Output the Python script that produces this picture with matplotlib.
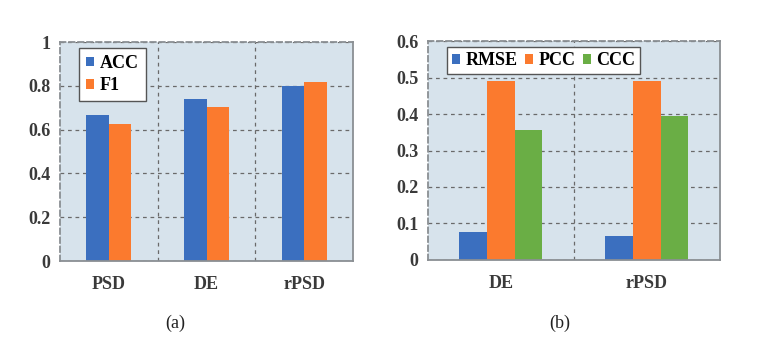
import numpy as np
import matplotlib.pyplot as plt

# (a) classification
feats_a = ["PSD", "DE", "rPSD"]
acc = [0.668, 0.740, 0.799]
f1 = [0.627, 0.703, 0.819]

# (b) regression
feats_b = ["DE", "rPSD"]
rmse = [0.076, 0.065]
pcc = [0.490, 0.490]
ccc = [0.355, 0.395]

BLUE = "#3b6fbf"
ORANGE = "#fb7a2e"
GREEN = "#6aae45"
BG = "#d7e3ec"

plt.rcParams["font.family"] = ["Liberation Serif", "DejaVu Serif"]

fig = plt.figure(figsize=(7.6, 3.48), dpi=100)
ax1 = fig.add_axes([0.079, 0.25, 0.3855, 0.629])
ax2 = fig.add_axes([0.563, 0.253, 0.384, 0.629])


def style(ax, ncat):
    ax.set_facecolor(BG)
    ax.set_xlim(-0.5, ncat - 0.5)
    ax.set_xticks(np.arange(ncat))
    ax.set_xticks(np.arange(ncat - 1) + 0.5, minor=True)
    ax.tick_params(axis="both", which="both", length=0, labelsize=13, pad=7)
    ax.tick_params(axis="x", pad=11)
    ax.grid(axis="y", which="major", color="#6a6a6a", linestyle=(0, (3, 3)), lw=0.9)
    ax.grid(axis="x", which="minor", color="#6a6a6a", linestyle=(0, (3, 3)), lw=0.9)
    ax.set_axisbelow(True)
    for s in ax.spines.values():
        s.set_color("#8a8f93")
        s.set_linewidth(1.3)
    for s in ("top", "left"):
        ax.spines[s].set_linestyle((0, (3, 2)))
    for lab in ax.get_xticklabels() + ax.get_yticklabels():
        lab.set_fontweight("bold")
        lab.set_color("#3a3a3a")


legend_kw = dict(loc="upper left", fancybox=False, framealpha=1, edgecolor="#555555",
                 handlelength=0.45, handleheight=0.45, handletextpad=0.3,
                 borderaxespad=0, prop={"weight": "bold", "size": 13})

x = np.arange(len(feats_a))
w = 0.23
ax1.bar(x - w / 2, acc, w, color=BLUE, label="ACC")
ax1.bar(x + w / 2, f1, w, color=ORANGE, label="F1")
ax1.set_ylim(0, 1)
ax1.set_yticks([0, 0.2, 0.4, 0.6, 0.8, 1])
ax1.set_yticklabels(["0", "0.2", "0.4", "0.6", "0.8", "1"])
ax1.set_xticklabels(feats_a)
style(ax1, len(feats_a))
leg1 = ax1.legend(bbox_to_anchor=(0.065, 0.975), labelspacing=0.3, borderpad=0.4,
                  **legend_kw)
leg1.get_frame().set_linewidth(1.0)

x = np.arange(len(feats_b))
w = 0.19
ax2.bar(x - w, rmse, w, color=BLUE, label="RMSE")
ax2.bar(x, pcc, w, color=ORANGE, label="PCC")
ax2.bar(x + w, ccc, w, color=GREEN, label="CCC")
ax2.set_ylim(0, 0.6)
ax2.set_yticks([0, 0.1, 0.2, 0.3, 0.4, 0.5, 0.6])
ax2.set_yticklabels(["0", "0.1", "0.2", "0.3", "0.4", "0.5", "0.6"])
ax2.set_xticklabels(feats_b)
style(ax2, len(feats_b))
leg2 = ax2.legend(bbox_to_anchor=(0.065, 0.972), ncol=3, columnspacing=0.4,
                  borderpad=0.28, **legend_kw)
leg2.get_frame().set_linewidth(1.0)

fig.text(0.23, 0.07, "(a)", ha="center", va="center", fontsize=13, color="#222222")
fig.text(0.737, 0.07, "(b)", ha="center", va="center", fontsize=13, color="#222222")

fig.savefig("out.png", dpi=100)
